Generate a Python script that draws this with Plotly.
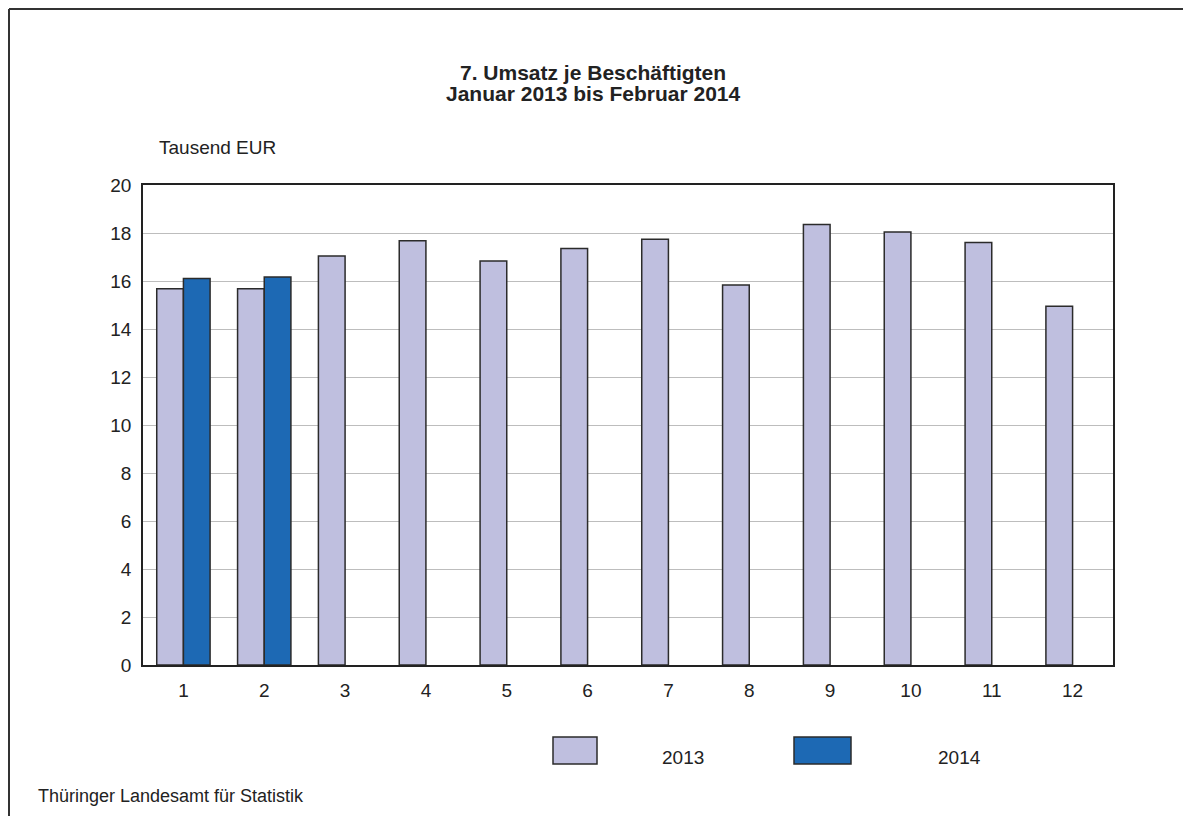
import plotly.graph_objects as go

months = ["1", "2", "3", "4", "5", "6", "7", "8", "9", "10", "11", "12"]
values_2013 = [15.68, 15.68, 17.04, 17.68, 16.83, 17.35, 17.74, 15.83, 18.35, 18.04, 17.60, 14.95]
values_2014 = [16.10, 16.17, None, None, None, None, None, None, None, None, None, None]
series_names = ["2013", "2014"]
y_ticks = [0, 2, 4, 6, 8, 10, 12, 14, 16, 18, 20]

# figure is placed 8px from page edge by the browser's default body margin
W, H = 1175, 808
L, R, T, B = 135, 1105, 177, 657
PW, PH = R - L, B - T

def px(x):
    return (x - L) / PW

def py(y):
    return (B - y) / PH

c2013 = "#BFBFDF"
c2014 = "#1D69B4"
edge = "#2b2b2b"
FONT = "Liberation Sans, Arial, sans-serif"

fig = go.Figure()
fig.add_trace(go.Bar(x=months, y=values_2013, name=series_names[0],
                     marker=dict(color=c2013, line=dict(color=edge, width=1.5))))
fig.add_trace(go.Bar(x=months, y=values_2014, name=series_names[1],
                     marker=dict(color=c2014, line=dict(color=edge, width=1.5))))

fig.update_layout(
    width=W, height=H,
    margin=dict(l=L, r=W - R, t=T, b=H - B, autoexpand=False),
    paper_bgcolor="white", plot_bgcolor="white",
    barmode="group", bargap=0.34, bargroupgap=0,
    showlegend=False,
    font=dict(family=FONT, size=19, color="#222222"),
)
fig.update_xaxes(type="category", showgrid=False, showline=True, linecolor="#222",
                 linewidth=1.5, mirror=True, ticks="", ticklabelstandoff=7,
                 tickfont=dict(size=19))
fig.update_yaxes(range=[0, 20], tickvals=y_ticks, showgrid=True, gridcolor="#bdbdbd",
                 gridwidth=0.8, showline=True, linecolor="#222", linewidth=1.5,
                 mirror=True, ticks="", ticklabelstandoff=6, zeroline=False,
                 tickfont=dict(size=19))

ann = []
ann.append(dict(text="<b>7. Umsatz je Beschäftigten</b>",
                x=px(585), y=py(65), xref="paper", yref="paper", showarrow=False,
                xanchor="center", yanchor="middle",
                font=dict(size=21, family=FONT, color="#222")))
ann.append(dict(text="<b>Januar 2013 bis Februar 2014</b>",
                x=px(585), y=py(86), xref="paper", yref="paper", showarrow=False,
                xanchor="center", yanchor="middle",
                font=dict(size=21, family=FONT, color="#222")))
ann.append(dict(text="Tausend EUR", x=px(149), y=py(139), xref="paper", yref="paper",
                showarrow=False, xanchor="left", yanchor="middle", font=dict(size=19)))
ann.append(dict(text="Thüringer Landesamt für Statistik", x=px(28), y=py(788),
                xref="paper", yref="paper", showarrow=False, xanchor="left",
                yanchor="middle", font=dict(size=18)))
ann.append(dict(text=series_names[0], x=px(675), y=py(749), xref="paper", yref="paper",
                showarrow=False, xanchor="center", yanchor="middle", font=dict(size=19)))
ann.append(dict(text=series_names[1], x=px(951), y=py(749), xref="paper", yref="paper",
                showarrow=False, xanchor="center", yanchor="middle", font=dict(size=19)))
fig.update_layout(annotations=ann)

shapes = []
shapes.append(dict(type="rect", xref="paper", yref="paper", x0=px(545), x1=px(589),
                   y0=py(756), y1=py(729), fillcolor=c2013, line=dict(color=edge, width=1.5)))
shapes.append(dict(type="rect", xref="paper", yref="paper", x0=px(786), x1=px(843),
                   y0=py(756), y1=py(729), fillcolor=c2014, line=dict(color=edge, width=1.5)))
# outer frame (left and top edges)
shapes.append(dict(type="line", xref="paper", yref="paper", x0=px(1), x1=px(1),
                   y0=py(1), y1=py(H + 5), line=dict(color="#333", width=2)))
shapes.append(dict(type="line", xref="paper", yref="paper", x0=px(1), x1=px(W + 5),
                   y0=py(1), y1=py(1), line=dict(color="#333", width=2)))
fig.update_layout(shapes=shapes)

fig.write_html("out.html")
